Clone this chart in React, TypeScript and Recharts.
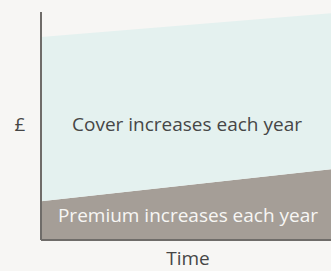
import React from "react";
import { AreaChart, Area, XAxis, YAxis, Customized } from "recharts";

const timePoints = [0, 1];
const premiumValues = [17, 31];
const coverValues = [72, 68.5];

const data = timePoints.map((t, i) => ({
    t,
    premium: premiumValues[i],
    cover: coverValues[i],
}));

const FONT = "'Open Sans', sans-serif";
const MARGIN = { top: 12, right: 0, bottom: 30, left: 40 };

function Labels() {
    return (
        <g fontFamily={FONT}>
            <text x={20} y={131} fontSize={19} fill="#464646" textAnchor="middle">£</text>
            <text x={187} y={131} fontSize={19} fill="#464646" textAnchor="middle">Cover increases each year</text>
            <text x={188} y={222} fontSize={19} fill="#f7f6f4" textAnchor="middle">Premium increases each year</text>
            <text x={188} y={265} fontSize={19} fill="#464646" textAnchor="middle">Time</text>
        </g>
    );
}

export default function App() {
    return (
        <div style={{ position: "absolute", left: 0, top: 0, width: 331, height: 271, background: "#f7f6f4" }}>
            <div style={{ position: "absolute", left: 0, top: 0 }}>
                <AreaChart width={331} height={271} data={data} margin={MARGIN}>
                    <XAxis dataKey="t" type="number" domain={[0, 1]} height={1} tick={false} tickLine={false} axisLine={false} />
                    <YAxis type="number" domain={[0, 100]} width={1} tick={false} tickLine={false} axisLine={false} />
                    <Area
                        type="linear"
                        dataKey="premium"
                        stackId="a"
                        stroke="none"
                        fill="#a59e97"
                        fillOpacity={1}
                        isAnimationActive={false}
                    />
                    <Area
                        type="linear"
                        dataKey="cover"
                        stackId="a"
                        stroke="none"
                        fill="#e4f1ef"
                        fillOpacity={1}
                        isAnimationActive={false}
                    />
                </AreaChart>
            </div>
            {/* axes and text drawn on top of the areas */}
            <div style={{ position: "absolute", left: 0, top: 0 }}>
                <AreaChart width={331} height={271} data={data} margin={MARGIN}>
                    <XAxis
                        dataKey="t"
                        type="number"
                        domain={[0, 1]}
                        tick={false}
                        tickLine={false}
                        height={1}
                        axisLine={{ stroke: "#6f6c69", strokeWidth: 2 }}
                    />
                    <YAxis
                        type="number"
                        domain={[0, 100]}
                        tick={false}
                        tickLine={false}
                        width={1}
                        axisLine={{ stroke: "#6f6c69", strokeWidth: 2 }}
                    />
                    <Area
                        type="linear"
                        dataKey="premium"
                        stroke="none"
                        fill="none"
                        isAnimationActive={false}
                    />
                    <Customized component={Labels} />
                </AreaChart>
            </div>
        </div>
    );
}
